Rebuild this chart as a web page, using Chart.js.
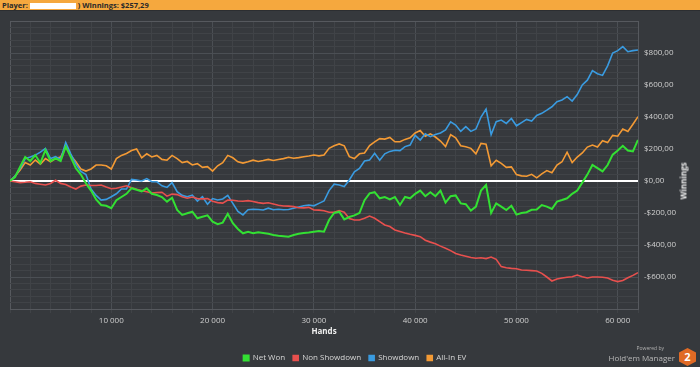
<!DOCTYPE html>
<html>
<head>
<meta charset="utf-8">
<script src="https://cdn.jsdelivr.net/npm/chart.js@4.4.1/dist/chart.umd.min.js"></script>
<style>
  html, body { margin: 0; padding: 0; background: #36393d; }
  #wrap { position: relative; width: 700px; height: 367px; overflow: hidden; font-family: "Open Sans", "Noto Sans", sans-serif; }
  #bar { position: absolute; left: 0; top: 0; width: 700px; height: 11px; background: #f5a83e; border-bottom: 1px solid #2c2e31;
         font-size: 7.5px; font-weight: bold; color: #2a2a2a; line-height: 11px; padding-left: 2px; box-sizing: border-box; z-index: 2; }
  #bar .blank { display: inline-block; width: 46px; height: 6px; background: #fff; vertical-align: -1px; }
  #chart-canvas { position: absolute; left: 0; top: 0; }
  #ytitle { position: absolute; left: 683px; top: 181px; transform: translate(-50%, -50%) rotate(-90deg);
            color: #f0f0f0; font-size: 8px; font-weight: bold; white-space: nowrap; }
  #logo { position: absolute; right: 3px; bottom: 1px; height: 22px; width: 110px; }
  #logo .pw { position: absolute; right: 33px; top: 1px; font-size: 5px; color: #b0b0b0; }
  #logo .hm { position: absolute; right: 22px; top: 8px; font-size: 8px; color: #b8b8b8; }
  #logo .badge { position: absolute; right: 1px; top: 4px; width: 17px; height: 18px; background: #e06a25;
                 clip-path: polygon(50% 0, 100% 25%, 100% 75%, 50% 100%, 0 75%, 0 25%);
                 color: #fff; font-weight: bold; font-size: 11px; line-height: 18px; text-align: center; }
</style>
</head>
<body>
<div id="wrap">
  <div id="bar">Player: <span class="blank"></span> ) Winnings: $257,29</div>
  <canvas id="chart-canvas" width="700" height="367"></canvas>
  <div id="ytitle">Winnings</div>
  <div id="logo"><span class="pw">Powered by</span><span class="hm">Hold'em Manager</span><div class="badge">2</div></div>
</div>
<script>
let hands = [
    0, 500, 1000, 1500, 2000, 2500, 3000, 3500, 4000, 4500,
    5000, 5500, 6000, 6500, 7000, 7500, 8000, 8500, 9000, 9500,
    10000, 10500, 11000, 11500, 12000, 12500, 13000, 13500, 14000, 14500,
    15000, 15500, 16000, 16500, 17000, 17500, 18000, 18500, 19000, 19500,
    20000, 20500, 21000, 21500, 22000, 22500, 23000, 23500, 24000, 24500,
    25000, 25500, 26000, 26500, 27000, 27500, 28000, 28500, 29000, 29500,
    30000, 30500, 31000, 31500, 32000, 32500, 33000, 33500, 34000, 34500,
    35000, 35500, 36000, 36500, 37000, 37500, 38000, 38500, 39000, 39500,
    40000, 40500, 41000, 41500, 42000, 42500, 43000, 43500, 44000, 44500,
    45000, 45500, 46000, 46500, 47000, 47500, 48000, 48500, 49000, 49500,
    50000, 50500, 51000, 51500, 52000, 52500, 53000, 53500, 54000, 54500,
    55000, 55500, 56000, 56500, 57000, 57500, 58000, 58500, 59000, 59500,
    60000, 60500, 61000, 61500, 62000
];

let netWon = [
    0, 25, 90, 150, 125, 162, 112, 194, 125, 142,
    125, 215, 150, 80, 40, -15, -60, -115, -150, -155,
    -170, -120, -100, -80, -45, -55, -65, -46, -80, -88,
    -100, -129, -105, -181, -212, -202, -192, -233, -223, -215,
    -254, -270, -260, -205, -264, -300, -327, -317, -327, -320,
    -325, -330, -338, -342, -345, -348, -338, -330, -325, -322,
    -317, -312, -317, -244, -200, -192, -240, -225, -215, -200,
    -120, -77, -70, -108, -100, -115, -100, -150, -100, -108,
    -80, -60, -95, -70, -95, -60, -135, -95, -90, -140,
    -145, -185, -160, -60, -25, -200, -140, -160, -181, -155,
    -210, -200, -195, -180, -178, -150, -160, -175, -129, -119,
    -108, -80, -60, -10, 40, 100, 80, 60, 100, 165,
    190, 220, 190, 185, 257
];

let nonShowdown = [
    0, -5, -10, -8, -5, -15, -20, -25, -15, 5,
    -15, -22, -38, -50, -32, -25, -28, -28, -25, -38,
    -48, -45, -38, -30, -42, -52, -60, -67, -75, -72,
    -70, -95, -82, -85, -98, -108, -100, -110, -112, -110,
    -127, -135, -138, -119, -120, -125, -127, -123, -128, -135,
    -140, -136, -144, -152, -156, -157, -160, -167, -168, -165,
    -181, -182, -186, -195, -196, -185, -195, -235, -244, -244,
    -233, -219, -233, -254, -275, -285, -306, -315, -325, -333,
    -340, -348, -370, -382, -392, -407, -420, -435, -453, -462,
    -470, -478, -483, -480, -485, -475, -490, -535, -542, -546,
    -548, -556, -558, -560, -562, -577, -600, -625, -612, -606,
    -602, -598, -588, -598, -606, -600, -600, -602, -606, -620,
    -629, -622, -605, -590, -573
];

let showdown = [
    0, 30, 79, 140, 150, 162, 180, 204, 140, 152,
    135, 240, 170, 105, 60, 40, -50, -90, -119, -115,
    -98, -80, -50, -50, 10, 6, 0, 15, -5, -5,
    -30, -40, -10, -67, -90, -98, -88, -125, -98, -145,
    -110, -119, -112, -90, -140, -190, -212, -180, -177, -178,
    -181, -170, -180, -177, -180, -178, -170, -162, -155, -150,
    -155, -140, -125, -60, -20, -25, -35, 6, 58, 79,
    125, 131, 173, 130, 170, 185, 192, 190, 215, 225,
    285, 256, 295, 277, 290, 300, 319, 370, 350, 310,
    340, 310, 325, 400, 450, 290, 371, 381, 360, 391,
    345, 365, 385, 375, 410, 423, 443, 464, 496, 506,
    527, 500, 540, 600, 630, 690, 670, 660, 720, 800,
    815, 840, 808, 815, 819
];

let allInEV = [
    0, 30, 69, 115, 100, 131, 105, 140, 120, 140,
    150, 215, 160, 120, 75, 62, 75, 100, 100, 95,
    75, 140, 160, 172, 190, 200, 145, 170, 150, 160,
    135, 130, 160, 140, 115, 122, 100, 108, 85, 90,
    62, 95, 115, 160, 145, 120, 112, 120, 130, 122,
    128, 135, 128, 134, 140, 148, 142, 146, 152, 156,
    162, 157, 162, 204, 220, 232, 220, 152, 140, 170,
    175, 222, 245, 265, 262, 272, 245, 245, 260, 270,
    300, 315, 280, 295, 275, 250, 215, 290, 270, 220,
    214, 204, 170, 235, 230, 95, 130, 110, 85, 88,
    40, 32, 30, 42, 20, 45, 65, 52, 100, 120,
    180, 115, 150, 175, 212, 225, 212, 252, 240, 285,
    280, 325, 310, 355, 402
];

let seriesNames = ['Net Won', 'Non Showdown', 'Showdown', 'All-In EV'];
let seriesColors = ['#33e033', '#e8504e', '#3a9be0', '#f39a35'];

let xMax = 62000;
let yMin = -800;
let yMax = 1000;

function toPoints(values){
    return values.map((v, i) => ({ x: hands[i], y: v }));
}

function moneyLabel(v){
    if (v < 0) return '-$' + Math.abs(v) + ',00';
    return '$' + v + ',00';
}

function handsLabel(v){
    let s = String(v);
    return s.slice(0, s.length - 3) + ' ' + s.slice(-3);
}

let borderCol = '#56595e';
let majorCol = '#4b4f54';
let minorCol = '#404347';

let allSeries = [netWon, nonShowdown, showdown, allInEV];
let datasets = allSeries.map((vals, i) => ({
    label: seriesNames[i],
    data: toPoints(vals),
    borderColor: seriesColors[i],
    backgroundColor: seriesColors[i],
    borderWidth: i === 0 ? 2 : 1.6,
    pointRadius: 0,
    tension: 0
}));
// net won is drawn on top
datasets[0].order = -1;

Chart.defaults.font.family = '"Open Sans", "Noto Sans", sans-serif';

let ctx = document.getElementById('chart-canvas').getContext('2d');
let chart = new Chart(ctx, {
    type: 'line',
    data: { datasets: datasets },
    options: {
        responsive: false,
        animation: false,
        layout: { padding: { top: 21, left: 10, right: 0, bottom: -5 } },
        plugins: {
            tooltip: { enabled: false },
            legend: {
                position: 'bottom',
                labels: {
                    color: '#d6d6d6',
                    font: { size: 8 },
                    boxWidth: 5,
                    boxHeight: 5,
                    padding: 8
                }
            }
        },
        scales: {
            x: {
                type: 'linear',
                min: 0,
                max: xMax,
                afterFit: (scale) => { scale.height = 37; },
                border: { color: borderCol },
                grid: {
                    tickLength: 4,
                    color: (c) => {
                        let v = c.tick.value;
                        if (v === 0 || v === xMax) return borderCol;
                        return v % 10000 === 0 ? majorCol : minorCol;
                    },
                    tickColor: minorCol
                },
                ticks: {
                    stepSize: 2000,
                    autoSkip: false,
                    maxRotation: 0,
                    color: '#cfcfcf',
                    font: { size: 8 },
                    padding: 3,
                    callback: (v) => (v > 0 && v % 10000 === 0) ? handsLabel(v) : ''
                },
                title: {
                    display: true,
                    text: 'Hands',
                    color: '#f0f0f0',
                    font: { size: 8, weight: 'bold' },
                    padding: { top: 0, bottom: 9 }
                }
            },
            y: {
                type: 'linear',
                position: 'right',
                min: yMin,
                max: yMax,
                afterFit: (scale) => { scale.width = 62; },
                border: { color: borderCol },
                grid: {
                    drawTicks: false,
                    color: (c) => {
                        let v = c.tick.value;
                        if (v === 0) return '#ffffff';
                        if (v === yMax || v === yMin) return borderCol;
                        return v % 200 === 0 ? majorCol : minorCol;
                    },
                    lineWidth: (c) => c.tick.value === 0 ? 2 : 1
                },
                ticks: {
                    stepSize: 40,
                    autoSkip: false,
                    color: '#cfcfcf',
                    font: { size: 8 },
                    padding: 6,
                    callback: (v) => (v % 200 === 0 && v > yMin && v < yMax) ? moneyLabel(v) : ''
                }
            }
        }
    }
});
</script>
</body>
</html>
